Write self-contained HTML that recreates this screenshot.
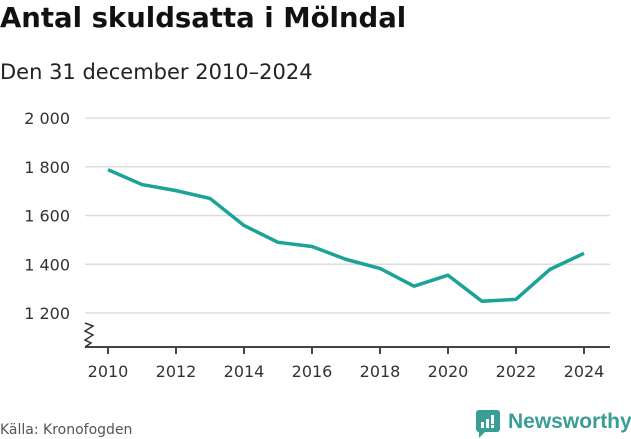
<!DOCTYPE html>
<html><head><meta charset="utf-8"><style>
body{margin:0;width:631px;height:439px;background:#fff;font-family:"DejaVu Sans","Liberation Sans",sans-serif;overflow:hidden;position:relative}
.t{position:absolute;left:0;top:2px;font-size:27.5px;font-weight:bold;color:#111;letter-spacing:0}
.s{position:absolute;left:0;top:60px;font-size:21px;color:#222}
.src{position:absolute;left:0;top:422px;font-size:14px;color:#555}
</style></head><body>
<div class="t">Antal skuldsatta i Mölndal</div>
<div class="s">Den 31 december 2010–2024</div>
<div class="src">Källa: Kronofogden</div>
<svg width="631" height="439" style="position:absolute;left:0;top:0" id="chart"></svg>
<div style="position:absolute;left:476px;top:410px;height:28px">
<svg width="26" height="28" style="position:absolute;left:0;top:0"><rect x="0" y="0" width="24" height="22" rx="3" fill="#3a9e95"/><path d="M3 21 L3 28 L10 21Z" fill="#3a9e95"/><rect x="5" y="12" width="3" height="6" fill="#fff"/><rect x="10" y="9" width="3" height="9" fill="#fff"/><rect x="15" y="5" width="3" height="9" fill="#fff"/><rect x="15" y="15" width="3" height="3" fill="#fff"/></svg>
<span style="position:absolute;left:32px;top:0px;font-size:21px;font-family:'Liberation Sans',sans-serif;color:#3a9e95;font-weight:bold;white-space:nowrap">Newsworthy</span>
</div>
<script>
const years=[2010,2011,2012,2013,2014,2015,2016,2017,2018,2019,2020,2021,2022,2023,2024];
const values=[1788,1727,1702,1670,1559,1490,1473,1420,1383,1310,1355,1248,1256,1379,1445];
const yTicks=[1200,1400,1600,1800,2000];
const yTickLabels=["1 200","1 400","1 600","1 800","2 000"];
const xTicks=[2010,2012,2014,2016,2018,2020,2022,2024];
const NS="http://www.w3.org/2000/svg";
const svg=document.getElementById('chart');
const x=v=>108+(v-2010)*(584-108)/14;
const y=v=>313-(v-1200)*(313-118)/800;
function mk(t,a){const e=document.createElementNS(NS,t);for(const k in a)e.setAttribute(k,a[k]);svg.appendChild(e);return e;}
yTicks.forEach((v,i)=>{
const g=mk('line',{x1:85,x2:610,y1:y(v),y2:y(v),stroke:'#ddd','stroke-width':1.5});


const t=mk('text',{x:70,y:y(v)+6,'text-anchor':'end','font-size':16,fill:'#333','font-family':'DejaVu Sans, Liberation Sans, sans-serif'});
t.textContent=yTickLabels[i];


});
const ax=mk('line',{x1:85,x2:610,y1:347,y2:347,stroke:'#444','stroke-width':2});


const br=mk('path',{d:'M85 323 L93 326 L85 331 L93 335 L85 340 L91 343 L85 347',fill:'none',stroke:'#333','stroke-width':1.5});


xTicks.forEach(v=>{
const l=mk('line',{x1:x(v),x2:x(v),y1:347,y2:354,stroke:'#444','stroke-width':2});


const t=mk('text',{x:x(v),y:377,'text-anchor':'middle','font-size':16,fill:'#333','font-family':'DejaVu Sans, Liberation Sans, sans-serif'});
t.textContent=v;


});
const p=mk('polyline',{points:years.map((yr,i)=>x(yr)+','+y(values[i])).join(' '),fill:'none',stroke:'#1aa396','stroke-width':3.5,'stroke-linejoin':'round'});


</script>
</body></html>
